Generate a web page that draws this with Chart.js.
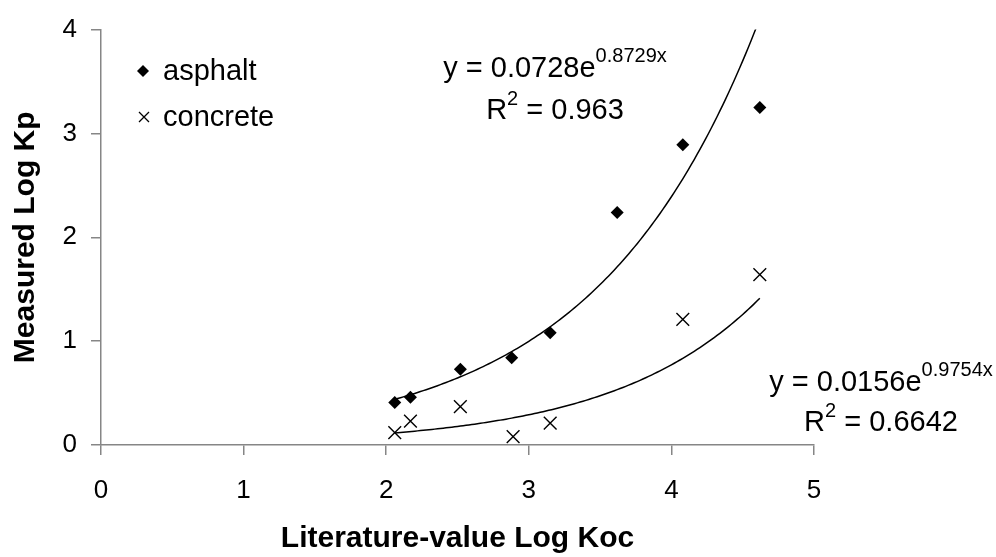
<!DOCTYPE html>
<html>
<head>
<meta charset="utf-8">
<script src="https://cdn.jsdelivr.net/npm/chart.js@4.4.0/dist/chart.umd.min.js"></script>
<style>
  html, body { margin: 0; padding: 0; background: #fff; }
  canvas { display: block; }
</style>
</head>
<body>
<canvas id="myChart" width="996" height="557"></canvas>
<script>
'use strict'

// measured points
const asphaltX = [2.06, 2.17, 2.52, 2.88, 3.15, 3.62, 4.08, 4.62]
const asphaltY = [0.41, 0.46, 0.73, 0.84, 1.08, 2.24, 2.89, 3.25]
const concreteX = [2.06, 2.17, 2.52, 2.89, 3.15, 4.08, 4.62]
const concreteY = [0.12, 0.23, 0.37, 0.08, 0.21, 1.21, 1.64]

const xTicks = [0, 1, 2, 3, 4, 5]
const yTicks = [0, 1, 2, 3, 4]

// exponential trendlines y = a * e^(b x), coefficients as printed on the chart
const asphaltFit = { a: 0.0728, b: 0.8729, exp: '0.8729x', r2: '0.963' }
const concreteFit = { a: 0.0156, b: 0.9754, exp: '0.9754x', r2: '0.6642' }

const FONT = '"Liberation Sans", Arial, sans-serif'
const AXIS_GREY = '#868686'

function toPoints(xs, ys) {
  return xs.map((x, i) => ({ x: x, y: ys[i] }))
}

// trendline drawn over the x range of its series
function trendPoints(fit, xs) {
  const pts = []
  const x0 = Math.min(...xs), x1 = Math.max(...xs)
  for (let x = x0; x <= x1 + 1e-9; x += 0.02) {
    pts.push({ x: x, y: fit.a * Math.exp(fit.b * x) })
  }
  return pts
}

// text with a superscript part, centered on cx
function supText(ctx, cx, y, parts) {
  let w = 0
  parts.forEach(p => { ctx.font = p.font; w += ctx.measureText(p.t).width })
  let x = cx - w / 2
  parts.forEach(p => {
    ctx.font = p.font
    ctx.fillText(p.t, x, y + (p.dy || 0))
    x += ctx.measureText(p.t).width
  })
}

const extras = {
  id: 'extras',
  afterDraw(chart) {
    const ctx = chart.ctx
    const big = '29px ' + FONT
    const small = '20px ' + FONT
    ctx.save()
    ctx.fillStyle = '#000'
    ctx.strokeStyle = '#000'
    ctx.textBaseline = 'alphabetic'
    ctx.textAlign = 'left'

    // legend
    ctx.beginPath()
    ctx.moveTo(143, 65); ctx.lineTo(149, 71); ctx.lineTo(143, 77); ctx.lineTo(137, 71)
    ctx.closePath(); ctx.fill()
    ctx.lineWidth = 1.3
    ctx.beginPath()
    ctx.moveTo(139, 112); ctx.lineTo(149, 122)
    ctx.moveTo(149, 112); ctx.lineTo(139, 122)
    ctx.stroke()
    ctx.font = big
    ctx.fillText('asphalt', 163, 80)
    ctx.fillText('concrete', 163, 126)

    // trendline equations
    supText(ctx, 555, 77, [
      { t: 'y = ' + asphaltFit.a + 'e', font: big },
      { t: asphaltFit.exp, font: small, dy: -15 }
    ])
    supText(ctx, 555, 119, [
      { t: 'R', font: big },
      { t: '2', font: small, dy: -14 },
      { t: ' = ' + asphaltFit.r2, font: big }
    ])
    supText(ctx, 881, 391, [
      { t: 'y = ' + concreteFit.a + 'e', font: big },
      { t: concreteFit.exp, font: small, dy: -15 }
    ])
    supText(ctx, 881, 431, [
      { t: 'R', font: big },
      { t: '2', font: small, dy: -14 },
      { t: ' = ' + concreteFit.r2, font: big }
    ])
    ctx.restore()
  }
}

const ctx = document.getElementById('myChart')

const myChart = new Chart(ctx, {
  type: 'scatter',
  data: {
    datasets: [
      {
        label: 'asphalt',
        data: toPoints(asphaltX, asphaltY),
        pointStyle: 'rectRot',
        pointRadius: 6.5,
        pointBackgroundColor: '#000',
        pointBorderColor: '#000',
        pointBorderWidth: 0
      },
      {
        label: 'concrete',
        data: toPoints(concreteX, concreteY),
        pointStyle: 'crossRot',
        pointRadius: 9,
        pointBorderColor: '#000',
        pointBorderWidth: 1.4
      },
      {
        label: 'asphalt trend',
        data: trendPoints(asphaltFit, asphaltX),
        showLine: true,
        pointRadius: 0,
        borderColor: '#000',
        borderWidth: 1.5,
        clip: 0
      },
      {
        label: 'concrete trend',
        data: trendPoints(concreteFit, concreteX),
        showLine: true,
        pointRadius: 0,
        borderColor: '#000',
        borderWidth: 1.5,
        clip: 0
      }
    ]
  },
  options: {
    responsive: false,
    animation: false,
    events: [],
    layout: { padding: { left: 0, top: 26, right: 182, bottom: 0 } },
    plugins: {
      legend: { display: false },
      tooltip: { enabled: false }
    },
    scales: {
      x: {
        type: 'linear',
        min: 0,
        max: 5,
        afterBuildTicks: s => { s.ticks = xTicks.map(v => ({ value: v })) },
        afterFit: s => { s.height = 112 },
        ticks: { color: '#000', font: { family: FONT, size: 26 }, padding: 20 },
        grid: { drawOnChartArea: false, drawTicks: true, tickLength: 10, color: AXIS_GREY, lineWidth: 1.5 },
        border: { color: AXIS_GREY, width: 1.5 },
        title: {
          display: true,
          text: 'Literature-value Log Koc',
          color: '#000',
          font: { family: FONT, size: 30, weight: 'bold' },
          padding: { top: 0, bottom: 0 }
        }
      },
      y: {
        type: 'linear',
        min: 0,
        max: 4,
        afterBuildTicks: s => { s.ticks = yTicks.map(v => ({ value: v })) },
        afterFit: s => { s.width = 101 },
        ticks: { color: '#000', font: { family: FONT, size: 26 }, padding: 14 },
        grid: { drawOnChartArea: false, drawTicks: true, tickLength: 10, color: AXIS_GREY, lineWidth: 1.5 },
        border: { color: AXIS_GREY, width: 1.5 },
        title: {
          display: true,
          text: 'Measured Log Kp',
          color: '#000',
          font: { family: FONT, size: 30, weight: 'bold' },
          padding: { top: 8, bottom: 0 }
        }
      }
    }
  },
  plugins: [extras]
})
</script>
</body>
</html>
